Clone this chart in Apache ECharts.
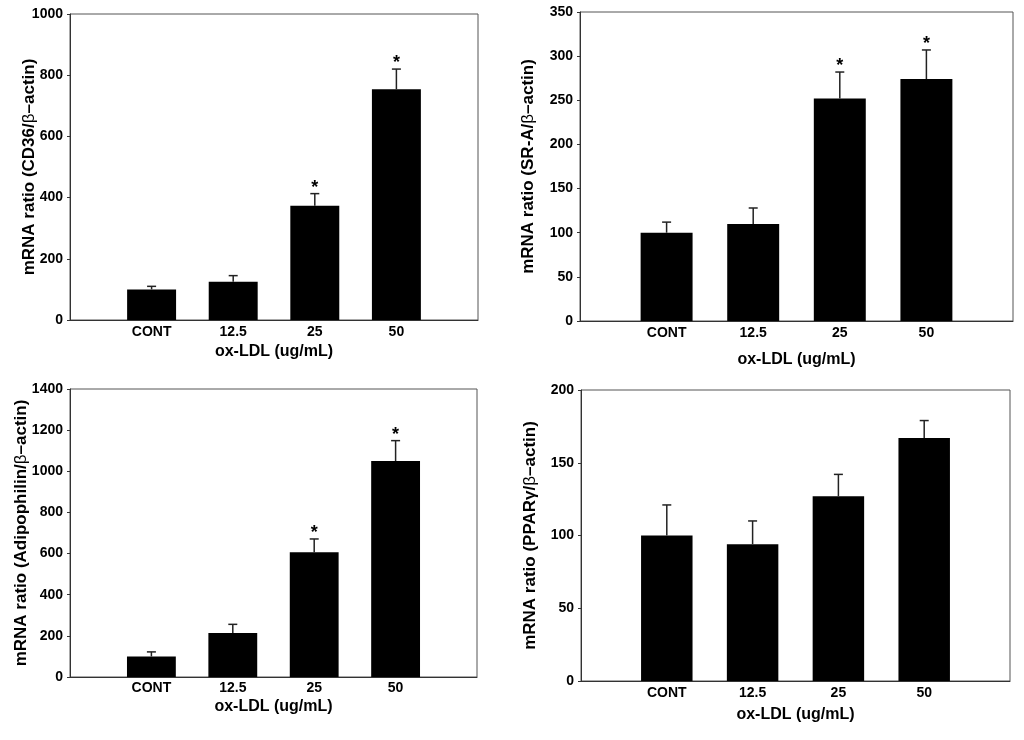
<!DOCTYPE html>
<html>
<head>
<meta charset="utf-8">
<script src="https://cdn.jsdelivr.net/npm/echarts@6/dist/echarts.min.js"></script>
<style>
html,body{margin:0;padding:0;background:#fff;}
#chart{width:1024px;height:740px;}
</style>
</head>
<body>
<div id="chart"></div>
<script>
// ---- data ----
const categories = ['CONT', '12.5', '25', '50'];
const xAxisTitle = 'ox-LDL (ug/mL)';

const cd36Mean = [100, 125, 373, 754];
const cd36Err  = [10, 20, 40, 66];
const cd36Sig  = [false, false, true, true];

const srMean = [100, 110, 252, 274];
const srErr  = [12, 18, 30, 33];
const srSig  = [false, false, true, true];

const adipoMean = [100, 214, 606, 1050];
const adipoErr  = [22, 42, 65, 99];
const adipoSig  = [false, false, true, true];

const pparMean = [100, 94, 127, 167];
const pparErr  = [21, 16, 15, 12];
const pparSig  = [false, false, false, false];

const yMax      = [1000, 350, 1400, 200];
const yInterval = [200, 50, 200, 50];
const yTitles = [
  'mRNA ratio (CD36/{g|β}–actin)',
  'mRNA ratio (SR-A/{g|β}–actin)',
  'mRNA ratio (Adipophilin/{g|β}–actin)',
  'mRNA ratio (PPARγ/{g|β}–actin)'
];

const panels = [
  {mean: cd36Mean, err: cd36Err, sig: cd36Sig},
  {mean: srMean, err: srErr, sig: srSig},
  {mean: adipoMean, err: adipoErr, sig: adipoSig},
  {mean: pparMean, err: pparErr, sig: pparSig}
];

// ---- layout ----
const grids = [
  {left: 70,  top: 14,  width: 408, height: 306},
  {left: 580, top: 12,  width: 433, height: 309},
  {left: 70,  top: 389, width: 407, height: 288},
  {left: 581, top: 390, width: 429, height: 291}
];
const yNameGap = [32, 43, 40, 42];
const xNameGap = [24, 31, 22, 26];
const xLabelMargin = [5, 5, 4, 5];

const FONT = '"Liberation Sans", Arial, Helvetica, sans-serif';

const option = {
  backgroundColor: '#fff',
  animation: false,
  grid: grids.map(g => Object.assign({show: true, borderColor: '#555', borderWidth: 1, backgroundColor: 'transparent', containLabel: false}, g)),
  xAxis: grids.map((g, k) => ({
    type: 'value', gridIndex: k, min: 0, max: categories.length + 1, interval: 1,
    splitLine: {show: false},
    axisTick: {show: false},
    axisLine: {show: true, onZero: false, lineStyle: {color: '#333', width: 1}},
    axisLabel: {
      margin: xLabelMargin[k], color: '#000', fontFamily: FONT, fontWeight: 'bold', fontSize: 14,
      formatter: v => (v >= 1 && v <= categories.length) ? categories[v - 1] : ''
    },
    name: xAxisTitle, nameLocation: 'middle', nameGap: xNameGap[k], nameMoveOverlap: false,
    nameTextStyle: {color: '#000', fontFamily: FONT, fontWeight: 'bold', fontSize: 16}
  })),
  yAxis: grids.map((g, k) => ({
    type: 'value', gridIndex: k, min: 0, max: yMax[k], interval: yInterval[k],
    splitLine: {show: false},
    axisTick: {show: true, inside: false, length: 3, lineStyle: {color: '#333'}},
    axisLine: {show: true, lineStyle: {color: '#333', width: 1}},
    axisLabel: {margin: 7, color: '#000', fontFamily: FONT, fontWeight: 'bold', fontSize: 14,
      formatter: v => String(v)},
    name: yTitles[k], nameLocation: 'middle', nameRotate: 90, nameGap: yNameGap[k], nameMoveOverlap: false,
    nameTextStyle: {color: '#000', fontFamily: FONT, fontWeight: 'bold', fontSize: 17,
      rich: {g: {fontFamily: FONT, fontWeight: 'normal', fontSize: 17, color: '#000'}}}
  })),
  series: []
};

panels.forEach((p, k) => {
  const barData = categories.map((c, i) => [i + 1, p.mean[i]]);
  const errData = categories.map((c, i) => [i + 1, p.mean[i], p.err[i]]);
  const sigData = categories.map((c, i) => [i + 1, p.mean[i] + p.err[i], p.sig[i] ? 1 : 0]);

  option.series.push({
    type: 'custom', xAxisIndex: k, yAxisIndex: k, data: barData,
    renderItem: (params, api) => {
      const x = api.value(0), v = api.value(1);
      const base = api.coord([x, 0]);
      const top = api.coord([x, v]);
      const w = api.size([1, 0])[0] * 0.6;
      return {type: 'rect', shape: {x: base[0] - w / 2, y: top[1], width: w, height: base[1] - top[1]},
        style: {fill: '#000'}};
    }
  });
  option.series.push({
    type: 'custom', xAxisIndex: k, yAxisIndex: k, data: errData, z: 3,
    renderItem: (params, api) => {
      const x = api.value(0), v = api.value(1), e = api.value(2);
      const a = api.coord([x, v]);
      const b = api.coord([x, v + e]);
      const cap = 4.5;
      const st = {stroke: '#222', lineWidth: 1.5};
      return {type: 'group', children: [
        {type: 'line', shape: {x1: a[0], y1: a[1], x2: b[0], y2: b[1]}, style: st},
        {type: 'line', shape: {x1: b[0] - cap, y1: b[1], x2: b[0] + cap, y2: b[1]}, style: st}
      ]};
    }
  });
  option.series.push({
    type: 'custom', xAxisIndex: k, yAxisIndex: k, data: sigData, z: 4,
    renderItem: (params, api) => {
      if (!api.value(2)) return null;
      const pt = api.coord([api.value(0), api.value(1)]);
      return {type: 'text', style: {text: '*', x: pt[0], y: pt[1] - 6, align: 'center', verticalAlign: 'middle',
        fill: '#000', font: 'bold 18px ' + FONT}};
    }
  });
});

const chart = echarts.init(document.getElementById('chart'), null, {renderer: 'canvas'});
chart.setOption(option);
</script>
</body>
</html>
